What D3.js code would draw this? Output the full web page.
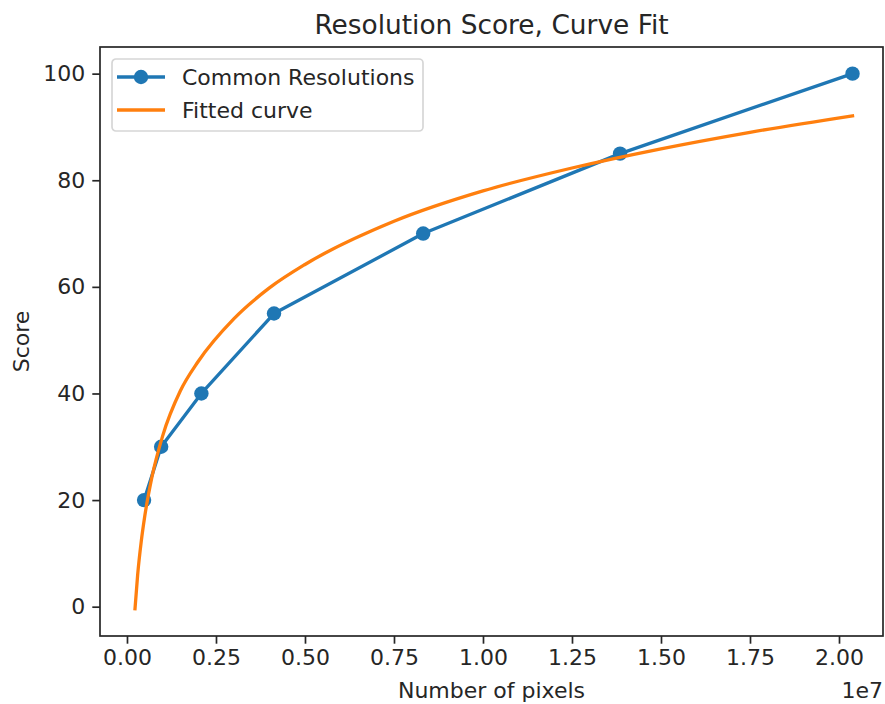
<!DOCTYPE html>
<html>
<head>
<meta charset="utf-8">
<script src="https://cdn.jsdelivr.net/npm/d3@7"></script>
<style>
  body { margin: 0; background: #fff; }
  text { font-family: "DejaVu Sans", sans-serif; fill: #262626; }
</style>
</head>
<body>
<div id="my_chart"></div>
<script>

// ======================= //
// DATA
// ======================= //

// common resolutions: number of pixels (in units of 1e7) and score
var resPixels = [0.048, 0.096, 0.209, 0.413, 0.832, 1.385, 2.038]
var resScore = [20, 30, 40, 55, 70, 85, 100]

// fitted curve
var fitPixels = [0.0225, 0.03, 0.04, 0.05, 0.07, 0.1, 0.15, 0.2, 0.3, 0.4, 0.5, 0.75, 1.0, 1.25, 1.5, 1.75, 2.038]
var fitScore = [-0.4, 6.0, 12.2, 17.0, 24.3, 32.0, 40.5, 46.0, 54.0, 59.8, 64.2, 72.3, 78.0, 82.3, 85.9, 89.0, 92.1]

var xTicks = [0, 0.25, 0.5, 0.75, 1.0, 1.25, 1.5, 1.75, 2.0]
var yTicks = [0, 20, 40, 60, 80, 100]

var seriesNames = ["Common Resolutions", "Fitted curve"]
var seriesColors = ["#1f77b4", "#ff7f0e"]


// ======================= //
// SVG AREAS
// ======================= //

var W = 885, H = 704
var margin = {top: 47, right: 2, bottom: 68, left: 100},
  width = W - margin.left - margin.right,
  height = H - margin.top - margin.bottom;

var svg = d3.select("#my_chart")
.append("svg")
  .attr("width", W)
  .attr("height", H)
.append("g")
  .attr("transform", "translate(" + margin.left + "," + margin.top + ")");


// ======================= //
// AXIS and SCALES
// ======================= //

var x = d3.scaleLinear()
  .domain([-0.0758, 2.1236])
  .range([0, width])

var y = d3.scaleLinear()
  .domain([-5.5, 105])
  .range([height, 0])

var xAxis = svg.append("g")
  .attr("transform", "translate(0," + height + ")")
  .call(d3.axisBottom(x).tickValues(xTicks).tickFormat(d3.format(".2f")).tickSizeOuter(0).tickSize(7.7).tickPadding(6))
var yAxis = svg.append("g")
  .call(d3.axisLeft(y).tickValues(yTicks).tickSizeOuter(0).tickSize(7.7).tickPadding(7))

svg.selectAll(".tick text")
    .style("font-size", "22px")
    .style("font-family", "DejaVu Sans")
    .attr("fill", "#262626")
svg.selectAll(".tick line")
    .attr("stroke", "#262626")
    .attr("stroke-width", 1.7)
svg.selectAll(".domain").remove()

// frame
svg.append("rect")
    .attr("x", 0)
    .attr("y", 0)
    .attr("width", width)
    .attr("height", height)
    .attr("fill", "none")
    .attr("stroke", "#262626")
    .attr("stroke-width", 1.7)

// title and labels
svg.append("text")
    .attr("x", width / 2)
    .attr("y", -13.5)
    .attr("text-anchor", "middle")
    .style("font-size", "26.4px")
    .text("Resolution Score, Curve Fit")

svg.append("text")
    .attr("x", width / 2)
    .attr("y", height + 62)
    .attr("text-anchor", "middle")
    .style("font-size", "22px")
    .text("Number of pixels")

svg.append("text")
    .attr("x", width)
    .attr("y", height + 62)
    .attr("text-anchor", "end")
    .style("font-size", "22px")
    .text("1e7")

svg.append("text")
    .attr("transform", "translate(" + (-71) + "," + (height / 2) + ")rotate(-90)")
    .attr("text-anchor", "middle")
    .style("font-size", "22px")
    .text("Score")


// ======================= //
// SHAPES
// ======================= //

var resData = resPixels.map(function(d, i){ return {x: d, y: resScore[i]} })
var fitData = fitPixels.map(function(d, i){ return {x: d, y: fitScore[i]} })

var line = d3.line()
  .x(function(d){ return x(d.x) })
  .y(function(d){ return y(d.y) })

svg.append("path")
    .datum(resData)
    .attr("d", line)
    .attr("fill", "none")
    .attr("stroke", seriesColors[0])
    .attr("stroke-width", 3.3)
    .attr("stroke-linejoin", "round")
    .attr("stroke-linecap", "square")

svg.selectAll(".dot")
    .data(resData)
    .enter()
    .append("circle")
      .attr("cx", function(d){ return x(d.x) })
      .attr("cy", function(d){ return y(d.y) })
      .attr("r", 7.2)
      .attr("fill", seriesColors[0])

svg.append("path")
    .datum(fitData)
    .attr("d", line.curve(d3.curveMonotoneX))
    .attr("fill", "none")
    .attr("stroke", seriesColors[1])
    .attr("stroke-width", 3.3)
    .attr("stroke-linecap", "square")


// ======================= //
// LEGEND
// ======================= //

var legend = svg.append("g")
  .attr("transform", "translate(12,12)")

legend.append("rect")
    .attr("x", 0)
    .attr("y", 0)
    .attr("width", 311)
    .attr("height", 72)
    .attr("rx", 4)
    .attr("fill", "white")
    .attr("fill-opacity", 0.8)
    .attr("stroke", "#d6d6d6")
    .attr("stroke-width", 1.7)

seriesNames.forEach(function(name, i){
  var ly = 18 + i * 33
  legend.append("line")
      .attr("x1", 5)
      .attr("x2", 53)
      .attr("y1", ly)
      .attr("y2", ly)
      .attr("stroke", seriesColors[i])
      .attr("stroke-width", 3.3)
  if (i == 0) {
    legend.append("circle")
        .attr("cx", 29)
        .attr("cy", ly)
        .attr("r", 7.2)
        .attr("fill", seriesColors[i])
  }
  legend.append("text")
      .attr("x", 70)
      .attr("y", ly)
      .attr("dy", "0.36em")
      .style("font-size", "22px")
      .text(name)
})

</script>
</body>
</html>
